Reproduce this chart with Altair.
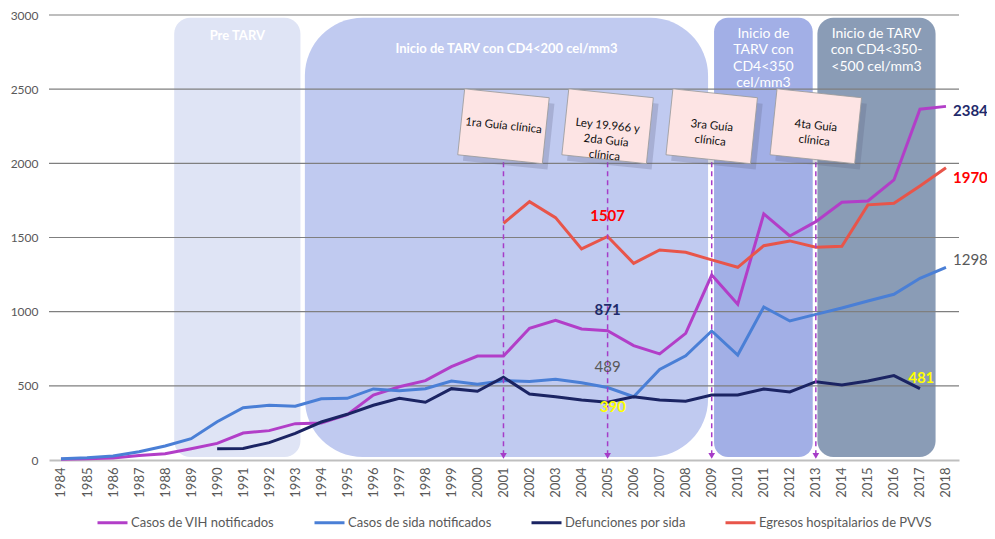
import altair as alt
import pandas as pd

# ---------------- data ----------------
years = list(range(1984, 2019))
vih = [5, 8, 13, 30, 42, 76, 112, 182, 198, 245, 250, 305, 438, 494, 535, 629, 701, 701,
       888, 942, 883, 871, 771, 715, 854, 1247, 1050, 1659, 1510, 1607, 1737, 1746, 1888,
       2365, 2384]
sida = [9, 15, 27, 56, 94, 144, 258, 353, 369, 362, 413, 416, 479, 467, 481, 533, 510, 535,
        530, 544, 521, 489, 427, 611, 703, 870, 708, 1032, 937, 982, 1025, 1072, 1117,
        1225, 1298]
def_years = list(range(1990, 2018))
defunciones = [76, 78, 117, 180, 256, 308, 369, 416, 389, 481, 463, 558, 445, 427, 405,
               390, 427, 405, 396, 438, 438, 479, 459, 528, 506, 533, 569, 481]
egr_years = list(range(2001, 2019))
egresos = [1596, 1742, 1634, 1423, 1507, 1326, 1416, 1400, 1349, 1299, 1445, 1477, 1434,
           1441, 1720, 1731, 1848, 1970]

series_names = ["Casos de VIH notificados", "Casos de sida notificados",
                "Defunciones por sida", "Egresos hospitalarios de PVVS"]

# treatment periods (start/end in years) and their titles
band_starts = [1988.35, 1993.37, 2009.09, 2013.06]
band_ends = [1993.2, 2008.86, 2012.88, 2017.6]
band_titles = ["Pre TARV", "Inicio de TARV con CD4<200 cel/mm3",
               "Inicio de\nTARV con\nCD4<350\ncel/mm3",
               "Inicio de TARV\ncon CD4<350-\n<500 cel/mm3"]

# milestone events
event_years = [2001, 2005, 2009, 2013]
event_texts = ["1ra Guía clínica", "Ley 19.966 y\n2da Guía\nclínica",
               "3ra Guía\nclínica", "4ta Guía\nclínica"]

# value labels
label_texts = ["2384", "1970", "1298", "1507", "871", "489", "390", "481"]
label_x = [2018.27, 2018.27, 2018.27, 2005, 2005, 2005, 2005.2, 2017.05]
label_y = [2352, 1902, 1349, 1647, 1011, 629, 360, 555]

grid_values = [500, 1000, 1500, 2000, 2500, 3000]

# ---------------- styles ----------------
series_colors = ["#b23ec8", "#4a7fd6", "#1b2463", "#e8554a"]
band_colors = ["#dfe4f5", "#c0caf0", "#a2afe6", "#8a9cb6"]
band_radius = [16, 58, 14, 16]
band_title_y = [2899, 2812, 2920, 2920]
band_title_bold = [True, True, False, False]
band_title_size = [13, 13, 14, 14]
label_colors = ["#1f2a6b", "#ff0000", "#595959", "#ff0000", "#1f2a6b", "#595959",
                "#ffff00", "#ffff00"]
label_bold = [True, True, False, True, True, False, True, True]
label_align = ["left", "left", "left", "center", "center", "center", "center", "center"]

FONT = "Lato"
XSCALE = alt.Scale(domain=[1983.54, 2018.5], nice=False, zero=False)
YSCALE = alt.Scale(domain=[0, 3000], nice=False)
XAXIS = alt.Axis(values=years, format="d", labelAngle=-90, grid=False, ticks=False,
                 domainColor="#bfbfbf", domainWidth=2, labelPadding=7, labelFontSize=13,
                 labelColor="#595959", labelFont=FONT, title=None)
YAXIS = alt.Axis(values=[0] + grid_values, format="d", grid=False, ticks=False,
                 domain=False, labelPadding=11, labelFontSize=12, labelColor="#595959",
                 labelFont=FONT, title=None)


def X(field, **kw):
    return alt.X(field, type="quantitative", scale=XSCALE, axis=XAXIS, **kw)


def Y(field, **kw):
    return alt.Y(field, type="quantitative", scale=YSCALE, axis=YAXIS, **kw)


layers = []

# bands
for i in range(4):
    bdf = pd.DataFrame({"x0": [band_starts[i]], "x1": [band_ends[i]],
                        "y0": [20], "y1": [2982]})
    layers.append(
        alt.Chart(bdf).mark_rect(color=band_colors[i], cornerRadius=band_radius[i])
        .encode(x=X("x0"), x2="x1", y=Y("y0"), y2="y1")
    )

# band titles
for i in range(4):
    tdf = pd.DataFrame({"x": [(band_starts[i] + band_ends[i]) / 2],
                        "y": [band_title_y[i]], "t": [band_titles[i]]})
    layers.append(
        alt.Chart(tdf).mark_text(color="white", font=FONT, fontSize=band_title_size[i],
                                 fontWeight="bold" if band_title_bold[i] else "normal",
                                 baseline="top", align="center", lineBreak="\n",
                                 lineHeight=16.5)
        .encode(x=X("x"), y=Y("y"), text="t:N")
    )

# grid lines
gdf = pd.DataFrame({"g": grid_values})
layers.append(
    alt.Chart(gdf).mark_rule(color="#7f7f7f", strokeWidth=1.2).encode(y=Y("g"))
)

# series lines
rows = []
for y_, v in zip(years, vih):
    rows.append({"year": y_, "value": v, "serie": series_names[0]})
for y_, v in zip(years, sida):
    rows.append({"year": y_, "value": v, "serie": series_names[1]})
for y_, v in zip(def_years, defunciones):
    rows.append({"year": y_, "value": v, "serie": series_names[2]})
for y_, v in zip(egr_years, egresos):
    rows.append({"year": y_, "value": v, "serie": series_names[3]})
ldf = pd.DataFrame(rows)
layers.append(
    alt.Chart(ldf).mark_line(strokeWidth=3, strokeJoin="miter")
    .encode(
        x=X("year"), y=Y("value"),
        color=alt.Color("serie:N", scale=alt.Scale(domain=series_names, range=series_colors),
                        sort=series_names,
                        legend=alt.Legend(title=None, orient="none", legendX=47, legendY=491,
                                          direction="horizontal", symbolType="stroke",
                                          symbolStrokeWidth=3, symbolSize=900,
                                          labelFontSize=13, labelFont=FONT,
                                          labelColor="#595959", columnPadding=33,
                                          labelOffset=2, labelLimit=0)),
        detail="serie:N",
    )
)

# arrows
adf = pd.DataFrame({"x": event_years, "top": [2250] * 4, "bot": [40] * 4,
                    "tip": [28] * 4})
layers.append(
    alt.Chart(adf).mark_rule(color="#a63cc8", strokeWidth=1.5, strokeDash=[5, 4])
    .encode(x=X("x"), y=Y("top"), y2="bot")
)
layers.append(
    alt.Chart(adf).mark_point(shape="triangle-down", filled=True, color="#a63cc8",
                              size=45, opacity=1)
    .encode(x=X("x"), y=Y("tip"))
)

# boxes
box_path = "M-1,-0.78L1,-0.78L1,0.78L-1,0.78Z"
bxdf = pd.DataFrame({"x": event_years, "y": [2250] * 4, "t": event_texts,
                     "sx": [e + 0.2 for e in event_years], "sy": [2210] * 4})
layers.append(
    alt.Chart(bxdf).mark_point(shape=box_path, filled=True, color="#5a5f80",
                               opacity=0.25, size=7225, angle=6)
    .encode(x=X("sx"), y=Y("sy"))
)
layers.append(
    alt.Chart(bxdf).mark_point(shape=box_path, filled=True, fill="#fde4e4",
                               stroke="#9a9a9a", strokeWidth=0.8, opacity=1,
                               size=7225, angle=6)
    .encode(x=X("x"), y=Y("y"))
)
layers.append(
    alt.Chart(bxdf).mark_text(font=FONT, fontSize=11.5, color="#111111", angle=6,
                              align="center", baseline="middle", lineBreak="\n",
                              lineHeight=15)
    .encode(x=X("x"), y=Y("y"), text="t:N")
)

# value labels
for i in range(len(label_texts)):
    vdf = pd.DataFrame({"x": [label_x[i]], "y": [label_y[i]], "t": [label_texts[i]]})
    layers.append(
        alt.Chart(vdf).mark_text(font=FONT, fontSize=15, color=label_colors[i],
                                 fontWeight="bold" if label_bold[i] else "normal",
                                 align=label_align[i], baseline="middle")
        .encode(x=X("x"), y=Y("y"), text="t:N")
    )

chart = alt.layer(*layers).properties(
    width=910, height=445,
    autosize=alt.AutoSizeParams(type="none"),
    padding={"left": 41, "top": 7, "right": 28, "bottom": 70},
).configure_view(stroke=None)

chart.save("out.html", embed_options={"renderer": "svg", "actions": False})
